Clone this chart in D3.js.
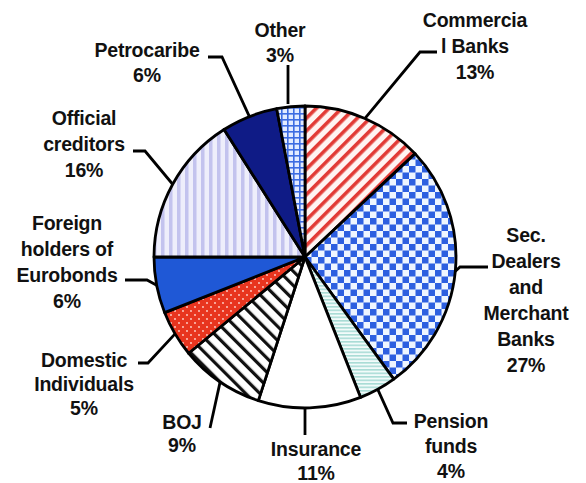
<!DOCTYPE html>
<html>
<head>
    <script src="https://cdnjs.cloudflare.com/ajax/libs/d3/7.8.5/d3.min.js"></script>
    <style>
        body { margin: 0; background: #fff; }
        .slice { stroke: #000; stroke-width: 2.8px; stroke-linejoin: round; }
        .leader { fill: none; stroke: #000; stroke-width: 2.8px; }
        .label {
            font-family: Arial, "Liberation Sans", sans-serif;
            font-weight: bold;
            font-size: 19.5px;
            letter-spacing: -0.2px;
            fill: #111;
        }
    </style>
</head>
<body>
    <svg width="586" height="483"></svg>
    <script>
        // Data
        const categories = ["Commercial Banks", "Sec. Dealers and Merchant Banks", "Pension funds",
            "Insurance", "BOJ", "Domestic individuals", "Foreign holders of Eurobonds",
            "Official creditors", "Petrocaribe", "Other"];
        const shares = [13, 27, 4, 11, 9, 5, 6, 16, 6, 3];
        const labelLines = [
            ["Commercia", "l Banks"],
            ["Sec.", "Dealers", "and", "Merchant", "Banks"],
            ["Pension", "funds"],
            ["Insurance"],
            ["BOJ"],
            ["Domestic", "Individuals"],
            ["Foreign", "holders of", "Eurobonds"],
            ["Official", "creditors"],
            ["Petrocaribe"],
            ["Other"]
        ];

        // Layout (label centres, line gap, leader elbows)
        const layout = [
            { x: 475, y: 20, gap: 26, leader: [[420, 52], [437, 52]] },
            { x: 526, y: 235, gap: 26, leader: [[460, 267], [488, 267]] },
            { x: 451, y: 421, gap: 25, leader: [[393, 423], [407, 423]] },
            { x: 316, y: 449, gap: 24, leader: [[305, 435]], start: [305, 409] },
            { x: 182, y: 422, gap: 23, leader: [[210, 428]] },
            { x: 84, y: 360, gap: 24, leader: [[148, 363], [138, 363]] },
            { x: 67, y: 223, gap: 26, leader: [[147, 280], [125, 280]] },
            { x: 84, y: 118, gap: 26, leader: [[145, 151], [133, 151]] },
            { x: 147, y: 50, gap: 25, leader: [[222, 57], [208, 57]] },
            { x: 280, y: 30, gap: 25, leader: [[288, 65]], start: [288, 104] }
        ];
        const patterns = ["p-comm", "p-sec", "p-pens", "p-ins", "p-boj", "p-dom", "p-for", "p-off", "p-petro", "p-oth"];

        const svg = d3.select("svg");
        const cx = 305, cy = 257, radius = 151;

        // Patterns
        const defs = svg.append("defs");

        function stripes(id, bg, fg, period, width, angle) {
            const p = defs.append("pattern").attr("id", id)
                .attr("patternUnits", "userSpaceOnUse")
                .attr("width", period).attr("height", period)
                .attr("patternTransform", `rotate(${angle})`);
            p.append("rect").attr("width", period).attr("height", period).attr("fill", bg);
            p.append("rect").attr("width", width).attr("height", period).attr("fill", fg);
        }
        stripes("p-comm", "#fff4f2", "#e23b36", 9, 3.6, 45);
        stripes("p-boj", "#ffffff", "#111111", 10, 3.2, -45);
        stripes("p-off", "#eeeefb", "#c3c3ee", 8, 3.5, 0);
        stripes("p-pens", "#f2fbfa", "#a9dcd6", 3.5, 1.6, 90);

        const sec = defs.append("pattern").attr("id", "p-sec")
            .attr("patternUnits", "userSpaceOnUse").attr("width", 13).attr("height", 13);
        sec.append("rect").attr("width", 13).attr("height", 13).attr("fill", "#eef5ff");
        sec.append("rect").attr("width", 6.5).attr("height", 6.5).attr("fill", "#2d5fe0");
        sec.append("rect").attr("x", 6.5).attr("y", 6.5).attr("width", 6.5).attr("height", 6.5).attr("fill", "#2d5fe0");

        const oth = defs.append("pattern").attr("id", "p-oth")
            .attr("patternUnits", "userSpaceOnUse").attr("width", 6).attr("height", 6);
        oth.append("rect").attr("width", 6).attr("height", 6).attr("fill", "#e3ebff");
        oth.append("rect").attr("width", 1.6).attr("height", 6).attr("fill", "#3d6ce2");
        oth.append("rect").attr("width", 6).attr("height", 1.6).attr("fill", "#3d6ce2");

        const dom = defs.append("pattern").attr("id", "p-dom")
            .attr("patternUnits", "userSpaceOnUse").attr("width", 8).attr("height", 8);
        dom.append("rect").attr("width", 8).attr("height", 8).attr("fill", "#e8351f");
        dom.append("circle").attr("cx", 2).attr("cy", 2).attr("r", 0.9).attr("fill", "#ffd8d0");
        dom.append("circle").attr("cx", 6).attr("cy", 6).attr("r", 0.9).attr("fill", "#ffd8d0");

        const solid = { "p-ins": "#ffffff", "p-for": "#1f58d6", "p-petro": "#0f1b86" };

        // Pie
        const data = categories.map((c, i) => ({ name: c, value: shares[i], i }));
        const pie = d3.pie().value(d => d.value).sort(null);
        const arc = d3.arc().innerRadius(0).outerRadius(radius);
        const edge = d3.arc().innerRadius(radius).outerRadius(radius);
        const arcs = pie(data);

        const g = svg.append("g").attr("transform", `translate(${cx},${cy})`);
        g.selectAll("path")
            .data(arcs)
            .join("path")
            .attr("class", "slice")
            .attr("d", arc)
            .attr("fill", d => solid[patterns[d.data.i]] || `url(#${patterns[d.data.i]})`);

        // Leader lines
        const line = d3.line();
        svg.append("g")
            .selectAll("path")
            .data(arcs)
            .join("path")
            .attr("class", "leader")
            .attr("d", d => {
                const L = layout[d.data.i];
                const c = edge.centroid(d);
                const s = L.start || [cx + c[0], cy + c[1]];
                return line([s, ...L.leader]);
            });

        // Labels
        const labels = svg.append("g")
            .selectAll("text")
            .data(arcs)
            .join("text")
            .attr("class", "label")
            .attr("text-anchor", "middle");
        labels.each(function(d) {
            const L = layout[d.data.i];
            const lines = labelLines[d.data.i].concat([d.data.value + "%"]);
            const t = d3.select(this);
            lines.forEach((s, k) => {
                t.append("tspan")
                    .attr("x", L.x)
                    .attr("y", L.y + k * L.gap)
                    .attr("dy", "0.36em")
                    .text(s);
            });
        });
    </script>
</body>
</html>
